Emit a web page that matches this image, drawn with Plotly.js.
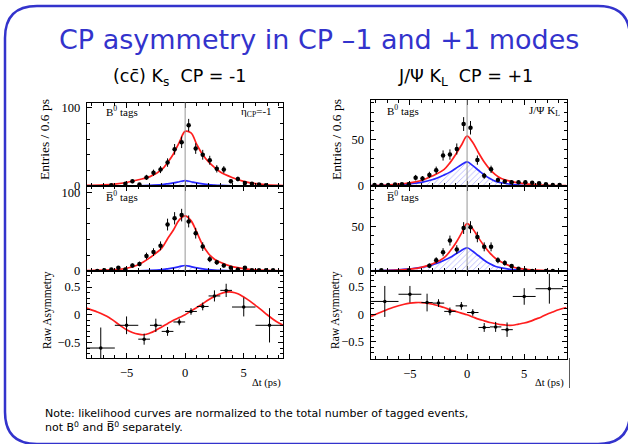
<!DOCTYPE html>
<html>
<head>
<meta charset="utf-8">
<script src="https://cdn.plot.ly/plotly-3.0.1.min.js"></script>
<style>html,body{margin:0;padding:0;background:#fff;}#chart{width:628px;height:444px;}</style>
</head>
<body>
<div id="chart"></div>
<script>
// ---------- DATA ----------
// (cc) Ks, CP = -1 : B0 tags
const topL_t = [-6.3,-5.1,-4.5,-3.9,-3.3,-2.7,-2.1,-1.5,-0.9,-0.3,0.3,0.9,1.5,2.1,2.7,3.3,3.9,4.5,5.1,5.7,6.3,6.9];
const topL_n = [1,3,6,2,11,17,21,30,47,56,78,48,40,33,22,21,6,9,4,3,2,1];
const topL_e = [1,1.7,2.4,1.4,3.3,4,4.5,5.4,6.8,7.4,8,6.8,6.3,5.7,4.7,4.5,2.4,3,2,1.7,1.4,1];
// (cc) Ks, CP = -1 : B0bar tags
const midL_t = [-7.5,-6.9,-6.3,-5.7,-5.1,-4.5,-3.9,-3.3,-2.7,-2.1,-1.5,-0.9,-0.3,0.3,0.9,1.5,2.1,2.7,3.3,3.9,4.5,5.1,5.7,6.3,6.9,7.5];
const midL_n = [0,1,2,4,2,7,9,19,24,32,59,67,71,63,48,31,15,11,7,4,2,4,1,1,1,1];
const midL_e = [0.5,1,1.4,2,1.4,2.6,3,4.3,4.9,5.6,7.5,7.8,8,7.6,6.8,5.5,3.8,3.3,2.6,2,1.4,2,1,1,1,1];
// fit curves, left
const fitL_t   = [-8.4,-7,-6,-5,-4,-3,-2,-1.5,-1,-0.5,0,0.5,1,1.5,2,2.5,3,4,5,6,7,8.4];
const topL_fit = [0.8,1.5,2.5,4.5,8,12,21,30,41,56,70,68,53,40,31,24,18,11,6,3,1.5,0.6];
const midL_fit = [0.5,1,1.7,3.5,8,17,29,41,52,65,70,64,49,33,22,15,11,5.5,3,1.5,0.8,0.3];
const bgL_fit  = [0,0,0,0.1,0.3,0.8,1.8,2.8,4,5.5,7,5.5,4,2.8,1.8,1.2,0.8,0.3,0.1,0,0,0];
// raw asymmetry, left
const asym_t  = [-7.2,-5,-3.5,-2.5,-1.5,-0.5,0.5,1.5,2.5,3.5,5,7.2];
const asym_dt = [1.2,1,0.5,0.5,0.5,0.5,0.5,0.5,0.5,0.5,1,1.2];
const asymL_a = [-0.6,-0.19,-0.44,-0.19,-0.3,-0.13,0.06,0.15,0.34,0.44,0.14,-0.19];
const asymL_e = [0.37,0.16,0.1,0.12,0.08,0.06,0.06,0.07,0.1,0.12,0.17,0.31];
const afitL_t = [-8.4,-7.5,-6.5,-5.5,-5,-4.5,-4,-3.5,-3,-2.5,-2,-1.5,-1,-0.5,0,0.5,1,1.5,2,2.5,3,3.5,4,4.5,5,5.5,6,6.5,7,7.5,8,8.4];
const afitL   = [0.12,0.05,-0.05,-0.2,-0.27,-0.32,-0.35,-0.36,-0.33,-0.28,-0.22,-0.16,-0.1,-0.05,0,0.07,0.13,0.2,0.27,0.33,0.38,0.41,0.41,0.38,0.32,0.25,0.17,0.09,0.0,-0.08,-0.15,-0.19];

// J/psi KL, CP = +1 : B0 tags
const topR_t = [-8.1,-7.5,-6.9,-6.3,-5.7,-5.1,-4.5,-3.9,-3.3,-2.7,-2.1,-1.5,-0.9,-0.3,0.3,0.9,1.5,2.1,2.7,3.3,3.9,4.5,5.1,5.7,6.3,6.9,7.5,8.1];
const topR_n = [1,1,1,1.5,2,2,9,8,12,17,33,34,40,67,63,28,11,18,6.5,5,4,4,4,3.5,3,2,1,1];
const topR_e = [1,1,1,1.2,1.4,1.4,3,2.8,3.4,4,5.5,5.6,6,7.5,7.3,5,3.2,4,2.5,2.2,2,2,2,1.8,1.7,1.4,1,1];
// J/psi KL, CP = +1 : B0bar tags
const midR_t = [-7.5,-5.1,-3.3,-2.7,-2.1,-1.5,-0.9,-0.3,0.3,0.9,1.5,2.1,2.7,3.3,3.9,4.5,5.1,5.7,6.9,7.5];
const midR_n = [0.7,0.5,6,12,21,34,24,48,49,38,27,27,12,9,5.5,2.5,0.5,0,0,0];
const midR_e = [0.8,0.7,2.4,3.4,4.5,5.6,4.8,6.6,6.7,5.9,5,5,3.4,3,2.3,1.6,0.7,0.5,0.5,0.5];
// fit curves, right
const fitR_t   = [-8.4,-7,-6,-5,-4,-3,-2,-1.5,-1,-0.5,0,0.5,1,1.5,2,2.5,3,4,5,6,7,8.7];
const topR_fit = [0.5,1,2,3.5,6,11,18,25,34,44,54,47,36,26,18,12,8,4.5,2.5,1.5,0.8,0.4];
const midR_fit = [0.2,0.5,1,2,4,8,15,22,31,42,53,47,37,28,20,14,10,4.5,2,1,0.5,0.2];
const bgR_fit  = [0.3,0.7,1.3,2.5,4,7,12,15,19,23,26,22,17,12,8,5,3.5,1.5,0.7,0.3,0.15,0.05];
// raw asymmetry, right
const asymR_a = [0.23,0.36,0.21,0.2,0.05,0.15,0.03,-0.24,-0.23,-0.28,0.32,0.46];
const asymR_e = [0.28,0.15,0.16,0.07,0.07,0.07,0.06,0.08,0.09,0.13,0.15,0.27];
const afitR_t = [-8.4,-7.5,-6.5,-5.5,-5,-4.5,-4,-3.5,-3,-2.5,-2,-1.5,-1,-0.5,0,0.5,1,1.5,2,2.5,3,3.5,4,4.5,5,5.5,6,6.5,7,7.5,8,8.7];
const afitR   = [-0.04,0.04,0.12,0.18,0.2,0.21,0.21,0.2,0.18,0.15,0.12,0.08,0.05,0.02,-0.01,-0.05,-0.09,-0.12,-0.15,-0.17,-0.19,-0.2,-0.2,-0.18,-0.16,-0.13,-0.09,-0.05,0.0,0.04,0.08,0.12];

// ---------- STYLE / LAYOUT ----------
const W = 628, H = 444;
const fx = p => p / W, fy = p => 1 - p / H;
const RED = 'rgb(255,30,30)', BLUE = 'rgb(40,40,255)', SLIDE = 'rgb(51,51,204)';
const SERIF = 'Liberation Serif, Times New Roman, serif';
const SANS = 'DejaVu Sans, Verdana, sans-serif';

function pts(t, n, e, xa, ya) {
  return {x: t, y: n, xaxis: xa, yaxis: ya, type: 'scatter', mode: 'markers',
    marker: {size: 4.5, color: '#000'},
    error_y: {type: 'data', array: e, visible: true, color: '#000', thickness: 1, width: 0},
    cliponaxis: true, hoverinfo: 'skip'};
}
function line(t, v, color, xa, ya, fill) {
  const tr = {x: t, y: v, xaxis: xa, yaxis: ya, type: 'scatter', mode: 'lines',
    line: {color: color, width: 1.7, shape: 'spline', smoothing: 1}, hoverinfo: 'skip'};
  if (fill) {
    tr.fill = 'tozeroy';
    tr.fillcolor = 'rgba(0,0,0,0)';
    tr.fillpattern = {shape: '/', fgcolor: 'rgba(60,60,255,0.55)', bgcolor: 'rgba(255,255,255,0)', size: 4, solidity: 0.15};
  }
  return tr;
}
function asym(a, e, xa, ya) {
  return {x: asym_t, y: a, xaxis: xa, yaxis: ya, type: 'scatter', mode: 'markers',
    marker: {size: 3.5, color: '#000'},
    error_y: {type: 'data', array: e, visible: true, color: '#000', thickness: 1, width: 0},
    error_x: {type: 'data', array: asym_dt, visible: true, color: '#000', thickness: 1, width: 0},
    hoverinfo: 'skip'};
}

const data = [
  line(fitL_t, bgL_fit, BLUE, 'x', 'y', true),
  line(fitL_t, topL_fit, RED, 'x', 'y'),
  pts(topL_t, topL_n, topL_e, 'x', 'y'),
  line(fitL_t, bgL_fit, BLUE, 'x2', 'y2', true),
  line(fitL_t, midL_fit, RED, 'x2', 'y2'),
  pts(midL_t, midL_n, midL_e, 'x2', 'y2'),
  line(afitL_t, afitL, RED, 'x3', 'y3'),
  asym(asymL_a, asymL_e, 'x3', 'y3'),
  line(fitR_t, bgR_fit, BLUE, 'x4', 'y4', true),
  line(fitR_t, topR_fit, RED, 'x4', 'y4'),
  pts(topR_t, topR_n, topR_e, 'x4', 'y4'),
  line(fitR_t, bgR_fit, BLUE, 'x5', 'y5', true),
  line(fitR_t, midR_fit, RED, 'x5', 'y5'),
  pts(midR_t, midR_n, midR_e, 'x5', 'y5'),
  line(afitR_t, afitR, RED, 'x6', 'y6'),
  asym(asymR_a, asymR_e, 'x6', 'y6')
];

const tickFont = {family: SERIF, size: 12.5, color: '#000'};
function ax(extra) {
  return Object.assign({
    showline: true, linecolor: '#000', linewidth: 1, mirror: 'ticks',
    ticks: 'inside', ticklen: 5, tickwidth: 1, tickcolor: '#000',
    showgrid: false, zeroline: false, tickfont: tickFont, fixedrange: true,
    ticklabelstandoff: 3
  }, extra);
}
const xL = [fx(86.7), fx(283)], xR = [fx(370.5), fx(566.5)];
const rL = [-8.4, 8.35], rR = [-8.45, 8.7];
const xMinor = {ticks: 'inside', ticklen: 3, dtick: 1, tickcolor: '#000'};

const layout = {
  width: W, height: H, margin: {l: 0, r: 0, t: 0, b: 0},
  paper_bgcolor: '#fff', plot_bgcolor: 'rgba(0,0,0,0)', showlegend: false,
  xaxis:  ax({domain: xL, anchor: 'y',  range: rL, dtick: 5, showticklabels: false, minor: xMinor}),
  xaxis2: ax({domain: xL, anchor: 'y2', range: rL, dtick: 5, showticklabels: false, minor: xMinor}),
  xaxis3: ax({domain: xL, anchor: 'y3', range: rL, dtick: 5, minor: xMinor}),
  xaxis4: ax({domain: xR, anchor: 'y4', range: rR, dtick: 5, showticklabels: false, minor: xMinor}),
  xaxis5: ax({domain: xR, anchor: 'y5', range: rR, dtick: 5, showticklabels: false, minor: xMinor}),
  xaxis6: ax({domain: xR, anchor: 'y6', range: rR, dtick: 5, minor: xMinor}),
  yaxis:  ax({domain: [fy(186), fy(102.5)], anchor: 'x',  range: [0, 107], dtick: 100, minor: {ticks: 'inside', ticklen: 3, dtick: 20}}),
  yaxis2: ax({domain: [fy(271), fy(186)],   anchor: 'x2', range: [0, 108], dtick: 100, minor: {ticks: 'inside', ticklen: 3, dtick: 20}}),
  yaxis3: ax({domain: [fy(358), fy(271)],   anchor: 'x3', range: [-0.78, 0.79], dtick: 0.5, minor: {ticks: 'inside', ticklen: 3, dtick: 0.1}}),
  yaxis4: ax({domain: [fy(186), fy(100)],   anchor: 'x4', range: [0, 93], dtick: 50, minor: {ticks: 'inside', ticklen: 3, dtick: 10}}),
  yaxis5: ax({domain: [fy(271), fy(186)],   anchor: 'x5', range: [0, 95], dtick: 50, minor: {ticks: 'inside', ticklen: 3, dtick: 10}}),
  yaxis6: ax({domain: [fy(359), fy(271)],   anchor: 'x6', range: [-0.81, 0.78], dtick: 0.5, minor: {ticks: 'inside', ticklen: 3, dtick: 0.1}}),
  shapes: [
    // slide frame
    {type: 'path', xref: 'paper', yref: 'paper', layer: 'below',
     path: `M ${fx(5)},${fy(38)} Q ${fx(5)},${fy(6)} ${fx(37)},${fy(6)} L ${fx(598)},${fy(6)} Q ${fx(630)},${fy(6)} ${fx(630)},${fy(38)} L ${fx(630)},${fy(412)} Q ${fx(630)},${fy(444)} ${fx(598)},${fy(444)} L ${fx(37)},${fy(444)} Q ${fx(5)},${fy(444)} ${fx(5)},${fy(412)} Z`,
     line: {color: SLIDE, width: 2.5}},
    // edge of the pasted right-hand figure
    {type: 'line', xref: 'paper', yref: 'paper', x0: fx(569.5), x1: fx(569.5), y0: fy(388), y1: fy(358), line: {color: 'rgb(90,90,90)', width: 1}},
    // vertical lines at dt = 0
    {type: 'line', xref: 'x',  yref: 'y domain',  x0: 0, x1: 0, y0: 0, y1: 1, line: {color: 'rgb(150,150,150)', width: 1}},
    {type: 'line', xref: 'x2', yref: 'y2 domain', x0: 0, x1: 0, y0: 0, y1: 1, line: {color: 'rgb(150,150,150)', width: 1}},
    {type: 'line', xref: 'x4', yref: 'y4 domain', x0: 0, x1: 0, y0: 0, y1: 1, line: {color: 'rgb(150,150,150)', width: 1}},
    {type: 'line', xref: 'x5', yref: 'y5 domain', x0: 0, x1: 0, y0: 0, y1: 1, line: {color: 'rgb(150,150,150)', width: 1}}
  ],
  annotations: []
};

function ann(text, x, y, opts) {
  layout.annotations.push(Object.assign({
    text: text, xref: 'paper', yref: 'paper', x: fx(x), y: fy(y), showarrow: false,
    xanchor: 'center', yanchor: 'middle', font: {family: SERIF, size: 11, color: '#000'}
  }, opts || {}));
}
// slide texts
ann('CP asymmetry in CP \u20131 and +1 modes', 319, 40, {font: {family: SANS, size: 27, color: SLIDE}});
ann('(cc\u0304) K<sub>s</sub>\u00a0\u00a0CP = -1', 179, 78, {font: {family: SANS, size: 17.5, color: '#000'}});
ann('J/\u03a8 K<sub>L</sub>\u00a0\u00a0CP = +1', 466, 78, {font: {family: SANS, size: 17.5, color: '#000'}});
ann('Note: likelihood curves are normalized to the total number of tagged events,<br>not B<sup>0</sup> and B\u0305<sup>0</sup> separately.', 43, 420,
    {xanchor: 'left', align: 'left', font: {family: SANS, size: 11, color: '#000'}});
// panel labels
ann('B<sup>0</sup> tags', 104, 111, {xanchor: 'left', font: {family: SERIF, size: 11, color: '#000'}});
ann('\u03b7<sub>CP</sub>=-1', 274, 112, {xanchor: 'right', font: {family: SERIF, size: 11, color: '#000'}});
ann('B\u0305<sup>0</sup> tags', 104, 196, {xanchor: 'left', font: {family: SERIF, size: 11, color: '#000'}});
ann('B<sup>0</sup> tags', 385, 110, {xanchor: 'left', font: {family: SERIF, size: 11, color: '#000'}});
ann('J/\u03a8 K<sub>L</sub>', 562, 111, {xanchor: 'right', font: {family: SERIF, size: 11, color: '#000'}});
ann('B\u0305<sup>0</sup> tags', 385, 196, {xanchor: 'left', font: {family: SERIF, size: 11, color: '#000'}});
// axis titles
ann('Entries / 0.6 ps', 44, 140, {textangle: -90, font: {family: SERIF, size: 13.5, color: '#000'}});
ann('Raw Asymmetry', 47, 310, {textangle: -90, font: {family: SERIF, size: 11.5, color: '#000'}});
ann('Entries / 0.6 ps', 336, 140, {textangle: -90, font: {family: SERIF, size: 13.5, color: '#000'}});
ann('Raw Asymmetry', 335, 310, {textangle: -90, font: {family: SERIF, size: 11.5, color: '#000'}});
ann('\u0394t (ps)', 283, 383, {xanchor: 'right', font: {family: SERIF, size: 10.5, color: '#000'}});
ann('\u0394t (ps)', 566, 383, {xanchor: 'right', font: {family: SERIF, size: 10.5, color: '#000'}});

Plotly.newPlot('chart', data, layout, {staticPlot: true, displayModeBar: false});
</script>
</body>
</html>
